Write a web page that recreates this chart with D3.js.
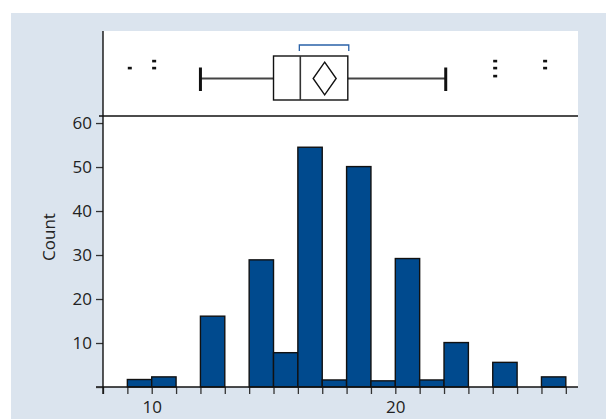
<!DOCTYPE html>
<html><head><meta charset="utf-8">
<script src="https://cdn.jsdelivr.net/npm/d3@7"></script>
<style>
html,body{margin:0;padding:0;background:#fff;}
svg text{font-family:"Open Sans",sans-serif;fill:#222;}
</style></head>
<body>
<svg id="chart" width="606" height="419"></svg>
<script>
// Histogram bins (left edge, right edge) and counts
const binStarts = [9, 10, 12, 14, 15, 16, 17, 18, 19, 20, 21, 22, 24, 26];
const binEnds   = [10, 11, 13, 15, 16, 17, 18, 19, 20, 21, 22, 23, 25, 27];
const counts    = [1.7, 2.3, 16.1, 28.9, 7.8, 54.5, 1.6, 50.1, 1.4, 29.2, 1.6, 10.1, 5.6, 2.3];
// Box plot summary
const whiskerLow = 12.0, q1 = 15.0, median = 16.1, q3 = 18.05, whiskerHigh = 22.07, mean = 17.1;
const shortestHalf = [16.06, 18.09];
const outliers = [9.1, 10.1, 10.1, 24.1, 24.1, 24.1, 26.15, 26.15];
// Axis ticks
const xTickValues = d3.range(8, 28);
const xTickLabels = [10, 20];
const yTickValues = [0, 10, 20, 30, 40, 50, 60];
const yTickLabels = [10, 20, 30, 40, 50, 60];
const yLabel = "Count";

const svg = d3.select("#chart");
const bg = "#dbe4ee";
const barColor = "#004a8e";
const fs = 17;

svg.append("rect").attr("x", 11).attr("y", 13).attr("width", 595).attr("height", 406).attr("fill", bg);
svg.append("rect").attr("x", 103).attr("y", 31).attr("width", 475).attr("height", 356).attr("fill", "#fff");

const x = d3.scaleLinear().domain([8, 27.5]).range([103, 578]);
const y = d3.scaleLinear().domain([0, 61.6]).range([387, 116]);

// bars
const bins = binStarts.map((s, i) => ({x0: s, x1: binEnds[i], c: counts[i]}));
svg.append("g").selectAll("rect").data(bins).join("rect")
  .attr("x", d => x(d.x0)).attr("width", d => x(d.x1) - x(d.x0))
  .attr("y", d => y(d.c)).attr("height", d => y(0) - y(d.c))
  .attr("fill", barColor).attr("stroke", "#111").attr("stroke-width", 1.4);

// x axis
const xAxis = d3.axisBottom(x).tickValues(xTickValues).tickSize(7)
  .tickFormat(d => xTickLabels.includes(d) ? d : "");
const gx = svg.append("g").attr("transform", "translate(0,387)").call(xAxis);
gx.select(".domain").remove();
gx.selectAll(".tick line").attr("stroke", "#333").attr("stroke-width", 1.3);
gx.selectAll(".tick text").attr("font-size", fs).attr("fill", "#222").attr("dy", "0.95em")
  .attr("font-family", "Open Sans, sans-serif");
svg.append("line").attr("x1", 96).attr("x2", 578).attr("y1", 387).attr("y2", 387)
  .attr("stroke", "#111").attr("stroke-width", 1.4);

// y axis
const yAxis = d3.axisLeft(y).tickValues(yTickValues).tickSize(7)
  .tickFormat(d => yTickLabels.includes(d) ? d : "");
const gy = svg.append("g").attr("transform", "translate(103,0)").call(yAxis);
gy.select(".domain").remove();
gy.selectAll(".tick line").attr("stroke", "#333").attr("stroke-width", 1.3);
gy.selectAll(".tick text").attr("font-size", fs).attr("fill", "#222").attr("x", -11)
  .attr("font-family", "Open Sans, sans-serif");
svg.append("line").attr("x1", 103).attr("x2", 103).attr("y1", 31).attr("y2", 394)
  .attr("stroke", "#111").attr("stroke-width", 1.4);

svg.append("text").attr("transform", "translate(55,237) rotate(-90)")
  .attr("text-anchor", "middle").attr("font-size", fs).text(yLabel);

// separator between box plot and histogram
svg.append("line").attr("x1", 99).attr("x2", 578).attr("y1", 116).attr("y2", 116)
  .attr("stroke", "#111").attr("stroke-width", 1.4);

// box plot
const cy = 78.5, boxTop = 56, boxBot = 100;
const bp = svg.append("g");
bp.append("line").attr("x1", x(whiskerLow)).attr("x2", x(q1)).attr("y1", cy).attr("y2", cy)
  .attr("stroke", "#444").attr("stroke-width", 2);
bp.append("line").attr("x1", x(q3)).attr("x2", x(whiskerHigh)).attr("y1", cy).attr("y2", cy)
  .attr("stroke", "#444").attr("stroke-width", 2);
[whiskerLow, whiskerHigh].forEach(v => {
  bp.append("line").attr("x1", x(v)).attr("x2", x(v)).attr("y1", 67.5).attr("y2", 91)
    .attr("stroke", "#111").attr("stroke-width", 3);
});
bp.append("rect").attr("x", x(q1)).attr("y", boxTop).attr("width", x(q3) - x(q1)).attr("height", boxBot - boxTop)
  .attr("fill", "#fff").attr("stroke", "#111").attr("stroke-width", 1.4);
bp.append("line").attr("x1", x(median)).attr("x2", x(median)).attr("y1", boxTop).attr("y2", boxBot)
  .attr("stroke", "#333").attr("stroke-width", 1.6);
const mx = x(mean);
bp.append("path").attr("d", `M${mx},${cy - 16.3}L${mx + 11.5},${cy}L${mx},${cy + 16.3}L${mx - 11.5},${cy}Z`)
  .attr("fill", "none").attr("stroke", "#111").attr("stroke-width", 1.4);
// shortest half bracket
bp.append("path").attr("d", `M${x(shortestHalf[0])},51V45H${x(shortestHalf[1])}V51`)
  .attr("fill", "none").attr("stroke", "#2a62a8").attr("stroke-width", 1.3);

// outliers, stacked when equal
const offsets = [0, -7, 8, -16, 16];
const seen = {};
const outPts = outliers.map(v => { const k = seen[v] || 0; seen[v] = k + 1; return {v, k}; });
bp.selectAll("rect.out").data(outPts).join("rect").attr("class", "out")
  .attr("x", d => x(d.v) - 2).attr("y", d => cy - 10.5 + offsets[d.k] - 1.2)
  .attr("width", 4).attr("height", 2.6).attr("fill", "#111");
</script>
</body></html>
